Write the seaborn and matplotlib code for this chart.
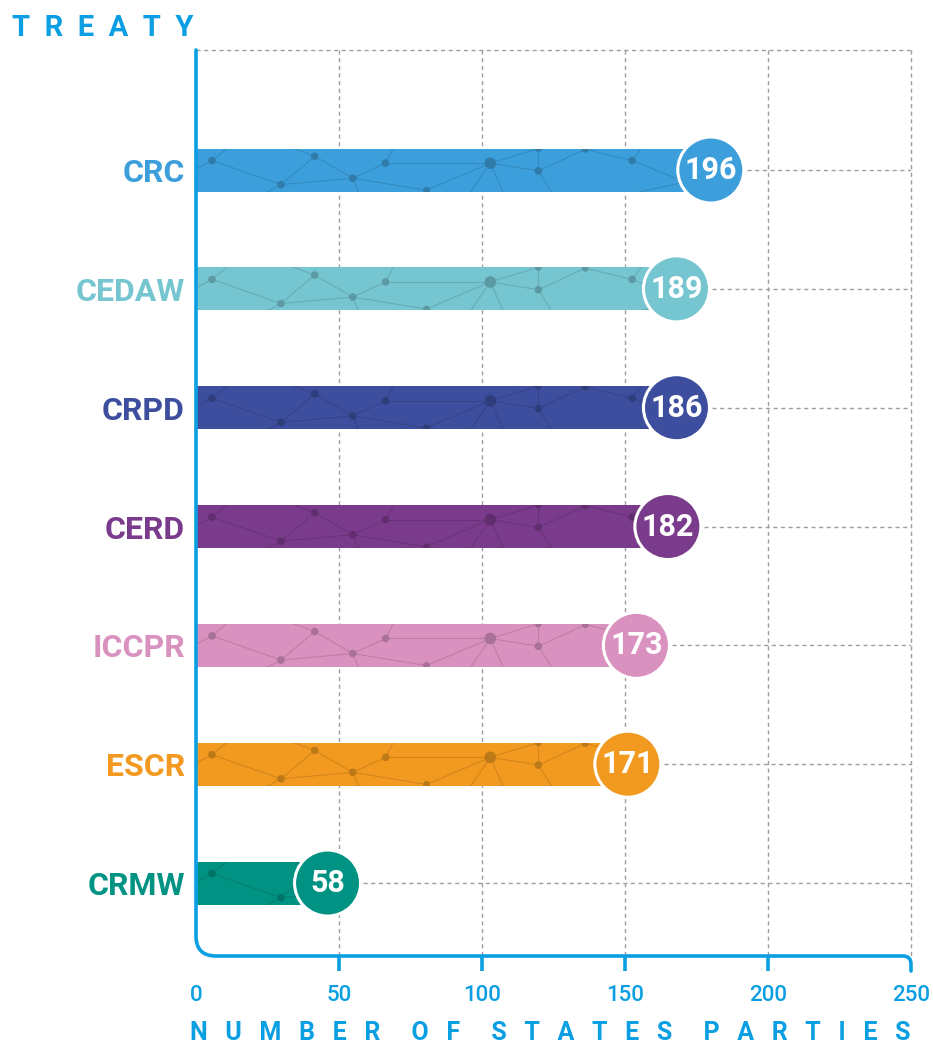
import numpy as np
import pandas as pd
import matplotlib
matplotlib.use("Agg")
import matplotlib.pyplot as plt
import matplotlib.colors as mcolors
from matplotlib.path import Path
from matplotlib.patches import PathPatch
import seaborn as sns

# ---------------- data ----------------
treaties = ["CRC", "CEDAW", "CRPD", "CERD", "ICCPR", "ESCR", "CRMW"]
states_parties = [196, 189, 186, 182, 173, 171, 58]
# the original graphic is not drawn to scale, so the bar ends
# (circle centres) are read off the picture separately
bar_ends = [180, 168, 168, 165, 154, 151, 46]
bar_colours = ["#3C9FDB", "#76C6D1", "#3D4E9E", "#7B3B8C", "#D991BF", "#F29A1F", "#009383"]
x_ticks = [0, 50, 100, 150, 200, 250]

# ---------------- style ----------------
BLUE = "#0A9FE2"
GRID = "#9E9E9E"
DASH = (0, (3, 2.5))
BAR_H = 0.362
Y_TOP, Y_BOT = -1.01, 6.614

# decorative "network" texture inside each bar: (x, fraction from bar top, dot size)
TEXTURE_NODES = {
    "a": (5.6, 0.28, 30), "b": (29.7, 0.84, 30), "c": (41.5, 0.18, 30),
    "d": (54.8, 0.69, 30), "e": (66.3, 0.34, 30), "f": (80.6, 0.97, 25),
    "g": (102.9, 0.34, 70), "h": (119.7, 0.52, 30), "i": (119.7, 0.0, 25),
    "j": (136.1, 0.02, 25), "k": (152.5, 0.28, 30), "l": (171.0, 0.78, 30),
}
TEXTURE_ANCHORS = {
    "p": (-5, 0.65), "q": (18, -0.4), "r": (14, 1.4), "s": (72, -0.4),
    "t": (92, 1.4), "u": (128, 1.4), "v": (60, 1.5), "w": (160, -0.4),
    "x": (185, 0.1), "y": (110, 1.4),
}
TEXTURE_EDGES = ["ap", "ab", "aq", "bc", "bd", "br", "cd", "cq", "de", "df", "dv",
                 "es", "eg", "gh", "gf", "gt", "gy", "hi", "hj", "hu", "jk", "kl",
                 "kw", "lx", "lu", "ig"]

sns.set_theme(style="white")
plt.rcParams["font.family"] = ["Roboto", "DejaVu Sans"]

fig = plt.figure(figsize=(9.33, 10.46), dpi=100)
ax = fig.add_axes([196 / 933, 90 / 1046, 715 / 933, 906 / 1046])

df = pd.DataFrame({"treaty": treaties, "drawn": bar_ends, "parties": states_parties})

sns.barplot(data=df, x="drawn", y="treaty", hue="treaty", palette=bar_colours,
            width=BAR_H, saturation=1, legend=False, linewidth=0, ax=ax, zorder=2)

ax.set_xlim(0, 250)
ax.set_ylim(Y_BOT, Y_TOP)

# texture on the bars
for patch in ax.patches:
    y_c = patch.get_y() + patch.get_height() / 2
    idx = int(round(y_c))
    dark = np.array(mcolors.to_rgb(bar_colours[idx])) * 0.78
    y0 = patch.get_y()
    h = patch.get_height()

    def pos(name):
        pt = TEXTURE_NODES.get(name) or TEXTURE_ANCHORS[name]
        return pt[0], y0 + pt[1] * h

    for edge in TEXTURE_EDGES:
        (x1, y1), (x2, y2) = pos(edge[0]), pos(edge[1])
        ln, = ax.plot([x1, x2], [y1, y2], color=dark, lw=0.8, alpha=0.6, zorder=3)
        ln.set_clip_path(patch)
    xs = [v[0] for v in TEXTURE_NODES.values()]
    ys = [y0 + v[1] * h for v in TEXTURE_NODES.values()]
    ss = [v[2] for v in TEXTURE_NODES.values()]
    sc = ax.scatter(xs, ys, s=ss, color=dark, linewidths=0, zorder=3)
    sc.set_clip_path(patch)

# circles with the counts
ypos = np.arange(len(treaties))
ax.scatter(bar_ends, ypos, s=2260, c=bar_colours, edgecolors="white", linewidths=2.2, zorder=5)
for x, y, n in zip(bar_ends, ypos, states_parties):
    ax.text(x, y, str(n), ha="center", va="center", color="white",
            fontsize=22, fontweight="bold", zorder=6)

# dashed guide lines
ax.hlines(ypos, np.array(bar_ends) + 12.5, 250, colors=GRID, linestyles=DASH, lw=1, zorder=1)
ax.vlines(x_ticks[1:], Y_TOP, Y_BOT, colors=GRID, linestyles=DASH, lw=1, zorder=1, clip_on=False)
ax.hlines(Y_TOP, 0, 250, colors=GRID, linestyles=DASH, lw=1, zorder=1, clip_on=False)

for s in ax.spines.values():
    s.set_visible(False)

# blue axis line with rounded corners
rx, ry = 7.0, 0.168
verts = [(0, Y_TOP), (0, Y_BOT - ry), (0, Y_BOT), (rx, Y_BOT),
         (250 - 2.8, Y_BOT), (250, Y_BOT), (250, Y_BOT + 0.067), (250, Y_BOT + 0.126)]
codes = [Path.MOVETO, Path.LINETO, Path.CURVE3, Path.CURVE3,
         Path.LINETO, Path.CURVE3, Path.CURVE3, Path.LINETO]
ax.add_patch(PathPatch(Path(verts, codes), fill=False, edgecolor=BLUE, lw=2.6,
                       capstyle="round", joinstyle="round", clip_on=False, zorder=4))

# ticks
ax.xaxis.remove_overlapping_locs = False
ax.set_xticks(x_ticks)
ax.set_xticklabels([str(t) for t in x_ticks], fontsize=16, color=BLUE, fontweight="medium")
ax.set_xticks(x_ticks[1:-1], minor=True)
ax.tick_params(axis="x", which="major", length=0, pad=21)
ax.tick_params(axis="x", which="minor", bottom=True, length=10.8, width=2.6, color=BLUE)

ax.set_yticks(ypos)
ax.set_yticklabels(treaties, fontsize=23, fontweight="bold")
for lbl, col in zip(ax.get_yticklabels(), bar_colours):
    lbl.set_color(col)
ax.tick_params(axis="y", length=0, pad=8)
ax.set_xlabel("")
ax.set_ylabel("")

# letter-spaced titles
fig.text(12 / 933, 1 - 28 / 1046, "  ".join("TREATY"), ha="left", va="center",
         fontsize=21, fontweight="bold", color=BLUE)
xlabel = "     ".join("  \u2009".join(w) for w in ["NUMBER", "OF", "STATES", "PARTIES"])
fig.text(190 / 933, 1 - 1033 / 1046, xlabel, ha="left", va="center",
         fontsize=18, fontweight="bold", color=BLUE)

fig.savefig("out.png", dpi=100)
